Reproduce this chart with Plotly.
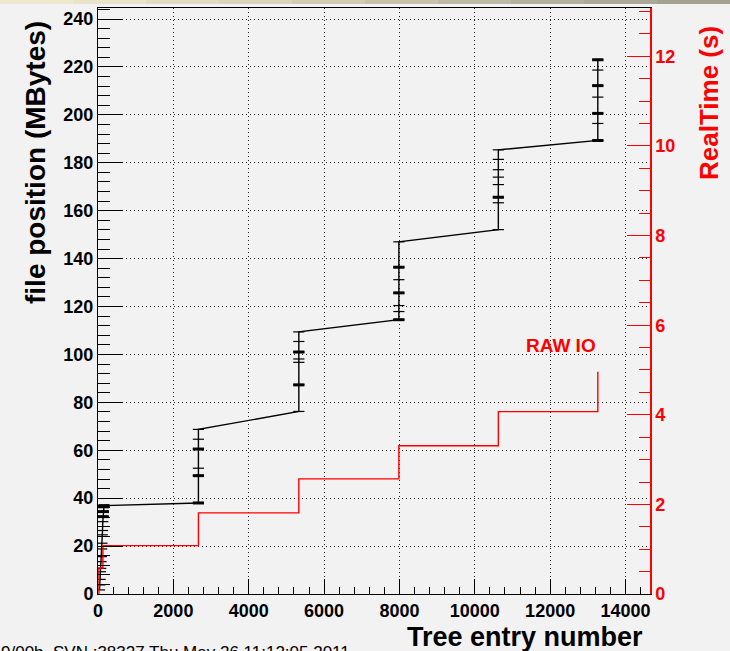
import plotly.graph_objects as go

# ---- data -------------------------------------------------------------
# Tree entries at which each group of baskets is read
cluster_entries = [0, 2665, 5330, 7985, 10625, 13265]

# entries and file positions (MBytes) for the first, densely read group
first_entries = [40, 48, 56, 64, 72, 80, 88, 96, 104, 112, 120, 128, 136, 144, 152, 160]
first_pos = [1.7, 3.8, 6.1, 9.3, 10.7, 13.5, 15.6, 18.8, 21.2, 24.7, 26.5,
             30.2, 32.3, 34.4, 36.4, 36.9]

# file positions (MBytes) read at each later group
group_pos = [
    [38.0, 49.4, 52.5, 60.5, 64.6, 68.7],
    [76.2, 87.3, 96.7, 98.1, 101.0, 105.4, 109.4],
    [114.5, 117.9, 120.4, 125.7, 131.2, 136.4, 147.0],
    [152.1, 163.3, 165.6, 170.9, 174.0, 177.1, 181.4, 185.4],
    [189.3, 196.4, 200.6, 207.4, 212.2, 218.7, 223.0],
]
# positions of the larger basket reads in each group
large_reads = [
    [32.3, 34.4, 36.4, 36.9],
    [38.0, 49.4, 60.5],
    [87.3, 101.0],
    [114.5, 125.7, 136.4],
    [165.6],
    [189.3, 200.6, 212.2, 223.0],
]

# cumulative real time (s) versus entry
time_entries = [25, 25, 130, 2665, 5330, 7985, 10625, 13265]
real_time = [0.0, 0.58, 1.08, 1.81, 2.57, 3.31, 4.07, 4.96]

x_ticks = [0, 2000, 4000, 6000, 8000, 10000, 12000, 14000]

# ---- build the series -------------------------------------------------
pos_x = list(first_entries)
pos_y = list(first_pos)
for e, vals in zip(cluster_entries[1:], group_pos):
    pos_x += [e] * len(vals)
    pos_y += vals

big_x, big_y = [], []
big_x += [first_entries[first_pos.index(v)] for v in large_reads[0]]
big_y += large_reads[0]
for e, vals in zip(cluster_entries[1:], large_reads[1:]):
    big_x += [e] * len(vals)
    big_y += vals

FONT = "Liberation Sans"
RED = "#ff0000"
BG = "#f2f2f2"

fig = go.Figure()

fig.add_trace(go.Scatter(
    x=pos_x, y=pos_y, mode="lines+markers",
    line=dict(color="black", width=1.4),
    marker=dict(symbol="line-ew", size=8, color="black",
                line=dict(color="black", width=1.2)),
    showlegend=False, hoverinfo="x+y"))

fig.add_trace(go.Scatter(
    x=big_x, y=big_y, mode="markers",
    marker=dict(symbol="line-ew", size=8, color="black",
                line=dict(color="black", width=3)),
    showlegend=False, hoverinfo="x+y"))

fig.add_trace(go.Scatter(
    x=time_entries, y=real_time, mode="lines", yaxis="y2",
    line=dict(color=RED, width=1.4, shape="hv"),
    showlegend=False, hoverinfo="x+y"))

GRID_DASH = "1px,3px"

fig.update_layout(
    width=730, height=651, autosize=False,
    margin=dict(l=98, r=80, t=8, b=57, pad=0),
    paper_bgcolor=BG, plot_bgcolor=BG,
    font=dict(family=FONT, color="black"),
    xaxis=dict(
        range=[0, 14650], tickmode="array", tickvals=x_ticks,
        ticktext=[str(v) for v in x_ticks],
        ticks="inside", ticklen=15, tickwidth=1, tickcolor="black",
        minor=dict(ticks="inside", ticklen=7, dtick=400, tick0=0,
                   tickcolor="black", showgrid=False),
        showgrid=True, gridcolor="#222222", gridwidth=1, griddash=GRID_DASH,
        showline=True, linecolor="black", linewidth=1, mirror=True,
        zeroline=False,
        tickfont=dict(family=FONT, size=18, color="black", weight="bold"),
    ),
    yaxis=dict(
        range=[0, 244.6], tick0=0, dtick=20,
        ticks="inside", ticklen=25, tickwidth=1, tickcolor="black",
        minor=dict(ticks="inside", ticklen=12, dtick=4, tick0=0,
                   tickcolor="black", showgrid=False),
        showgrid=True, gridcolor="#222222", gridwidth=1, griddash=GRID_DASH,
        showline=True, linecolor="black", linewidth=1,
        zeroline=False,
        tickfont=dict(family=FONT, size=18, color="black", weight="bold"),
    ),
    yaxis2=dict(
        overlaying="y", side="right", anchor="x",
        range=[0, 13.08], tick0=0, dtick=2,
        ticks="inside", ticklen=23, tickwidth=1, tickcolor=RED,
        minor=dict(ticks="inside", ticklen=11, dtick=0.5, tick0=0,
                   tickcolor=RED, showgrid=False),
        showgrid=False, zeroline=False,
        showline=True, linecolor=RED, linewidth=1.5,
        tickfont=dict(family=FONT, size=18, color=RED, weight="bold"),
    ),
)


def px_x(px):
    return (px - 98) / 552.0


def px_y(py):
    return (594 - py) / 586.0


annotations = [
    dict(text="file position (MBytes)", x=px_x(35), y=px_y(163), textangle=-90,
         font=dict(family=FONT, size=28, color="black", weight="bold")),
    dict(text="RealTime (s)", x=px_x(709), y=px_y(103), textangle=-90,
         font=dict(family=FONT, size=26, color=RED, weight="bold")),
    dict(text="Tree entry number", x=px_x(525), y=px_y(637),
         font=dict(family=FONT, size=27, color="black", weight="bold")),
    dict(text="RAW IO", x=px_x(561), y=px_y(346),
         font=dict(family=FONT, size=19, color=RED, weight="bold")),
]
for a in annotations:
    a.update(xref="paper", yref="paper", showarrow=False,
             xanchor="center", yanchor="middle")

annotations.append(dict(
    text="9/00b, SVN :38327 Thu May 26 11:12:05 2011",
    x=px_x(352), y=px_y(641), xref="paper", yref="paper", showarrow=False,
    xanchor="right", yanchor="top",
    font=dict(family=FONT, size=17, color="black")))
fig.update_layout(annotations=annotations)

# window strip along the top edge, shading from cream to grey
strip_cols = ["#eee8cf", "#e9e3ca", "#e2dcc3", "#dad4bb", "#d1cbb3",
              "#c8c2ab", "#beb9a4", "#b5b09d", "#aca897", "#a5a192"]
n = len(strip_cols)
shapes = []
for i, c in enumerate(strip_cols):
    shapes.append(dict(type="rect", xref="paper", yref="paper",
                       x0=px_x(730 * i / n), x1=px_x(730 * (i + 1) / n),
                       y0=px_y(4), y1=px_y(0), fillcolor=c,
                       line=dict(width=0), layer="above"))
fig.update_layout(shapes=shapes)

fig.write_html("out.html")
